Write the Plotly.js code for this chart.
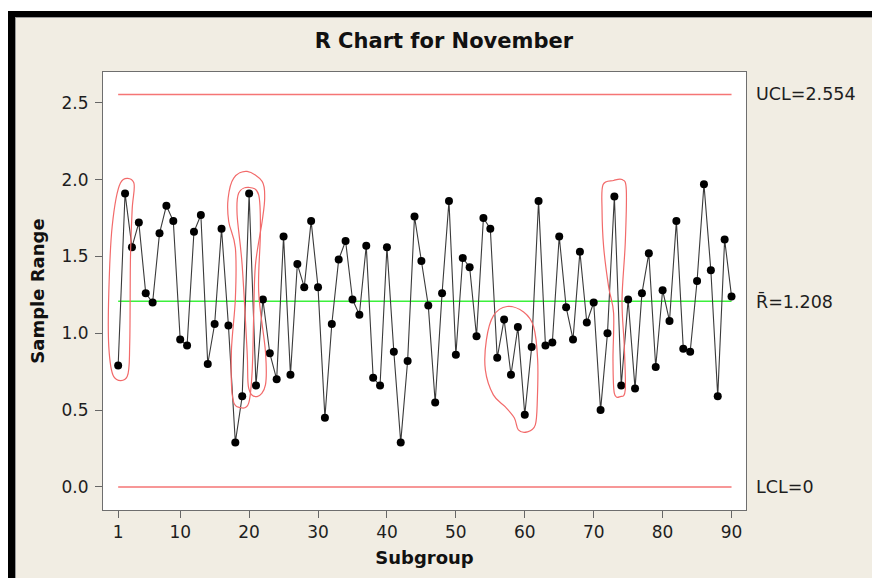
<!DOCTYPE html>
<html>
<head>
<meta charset="utf-8">
<script src="https://cdn.plot.ly/plotly-3.0.1.min.js"></script>
<style>
  html, body { margin: 0; padding: 0; background: #ffffff; }
  #frame { position: absolute; left: 8px; top: 11px; width: 864px; height: 567px;
           box-sizing: border-box; background: #f1ede3;
           border-top: 6px solid #000; border-left: 7px solid #000;
           box-shadow: inset 1px 1px 0 #9a9a9a; }
  #chart { position: absolute; left: 0; top: 0; width: 872px; height: 578px; }
</style>
</head>
<body>
<div id="frame"></div>
<div id="chart"></div>
<script>
// ---- data ----
const sampleRange = [
  0.79, 1.91, 1.56, 1.72, 1.26, 1.20, 1.65, 1.83, 1.73, 0.96,
  0.92, 1.66, 1.77, 0.80, 1.06, 1.68, 1.05, 0.29, 0.59, 1.91,
  0.66, 1.22, 0.87, 0.70, 1.63, 0.73, 1.45, 1.30, 1.73, 1.30,
  0.45, 1.06, 1.48, 1.60, 1.22, 1.12, 1.57, 0.71, 0.66, 1.56,
  0.88, 0.29, 0.82, 1.76, 1.47, 1.18, 0.55, 1.26, 1.86, 0.86,
  1.49, 1.43, 0.98, 1.75, 1.68, 0.84, 1.09, 0.73, 1.04, 0.47,
  0.91, 1.86, 0.92, 0.94, 1.63, 1.17, 0.96, 1.53, 1.07, 1.20,
  0.50, 1.00, 1.89, 0.66, 1.22, 0.64, 1.26, 1.52, 0.78, 1.28,
  1.08, 1.73, 0.90, 0.88, 1.34, 1.97, 1.41, 0.59, 1.61, 1.24
];
const subgroups = sampleRange.map((_, i) => i + 1);
const UCL = 2.554;
const RBAR = 1.208;
const LCL = 0;
const controlLabels = ["UCL=2.554", "R\u0304=1.208", "LCL=0"];
const xTickVals = [1, 10, 20, 30, 40, 50, 60, 70, 80, 90];
const yTickVals = [0, 0.5, 1.0, 1.5, 2.0, 2.5];

// hand-drawn red outlines (data coordinates: subgroup, range)
const outlines = [
  [[3.26,1.981],[1.33,1.977],[0.13,1.695],[-0.36,1.261],[-0.36,0.913],[0.36,0.718],[2.31,0.718],[2.68,0.936],[2.78,1.478],[3.03,1.803]],
  [[19.71,2.053],[21.89,1.988],[22.26,1.880],[21.89,1.727],[20.92,1.445],[20.67,1.120],[20.44,0.751],[19.94,0.545],[18.74,0.516],[17.62,0.577],[17.43,0.881],[18.01,1.228],[18.01,1.554],[17.04,1.727],[16.96,1.880],[17.77,2.010]],
  [[19.94,1.949],[21.39,1.901],[21.64,1.662],[21.39,1.271],[22.37,0.881],[22.37,0.664],[21.16,0.588],[19.94,0.643],[19.71,0.881],[18.99,1.445],[18.26,1.771],[18.49,1.912]],
  [[57.43,1.174],[59.83,1.139],[61.28,1.044],[61.87,0.827],[61.82,0.566],[61.53,0.404],[60.37,0.358],[59.07,0.371],[58.49,0.449],[57.18,0.521],[55.44,0.599],[54.28,0.762],[54.43,0.957],[55.44,1.113]],
  [[71.35,1.966],[72.89,1.994],[74.11,2.0],[74.73,1.934],[74.58,1.587],[74.11,1.217],[74.44,0.913],[74.58,0.632],[73.86,0.588],[72.99,0.610],[72.80,0.827],[72.89,1.131],[72.16,1.304],[71.44,1.564],[71.21,1.803]]
];

function smoothClosedPath(pts) {
  const n = pts.length;
  let d = `M${pts[0][0]},${pts[0][1]}`;
  for (let i = 0; i < n; i++) {
    const p0 = pts[(i - 1 + n) % n], p1 = pts[i], p2 = pts[(i + 1) % n], p3 = pts[(i + 2) % n];
    const c1x = p1[0] + (p2[0] - p0[0]) / 6, c1y = p1[1] + (p2[1] - p0[1]) / 6;
    const c2x = p2[0] - (p3[0] - p1[0]) / 6, c2y = p2[1] - (p3[1] - p1[1]) / 6;
    d += ` C${c1x},${c1y} ${c2x},${c2y} ${p2[0]},${p2[1]}`;
  }
  return d + " Z";
}

const FONT = "DejaVu Sans, Verdana, sans-serif";
const xStart = subgroups[0], xEnd = subgroups[subgroups.length - 1];

const traces = [
  { x: [xStart, xEnd], y: [UCL, UCL], mode: "lines", line: { color: "#f57575", width: 1.5 }, hoverinfo: "skip" },
  { x: [xStart, xEnd], y: [LCL, LCL], mode: "lines", line: { color: "#f57575", width: 1.5 }, hoverinfo: "skip" },
  { x: [xStart, xEnd], y: [RBAR, RBAR], mode: "lines", line: { color: "#3cf03c", width: 1.5 }, hoverinfo: "skip" },
  { x: subgroups, y: sampleRange, mode: "lines+markers",
    line: { color: "#3a3a3a", width: 1.1 },
    marker: { color: "#000000", size: 8 } }
];

const shapes = outlines.map(o => ({
  type: "path", xref: "x", yref: "y", path: smoothClosedPath(o),
  line: { color: "#f26a6a", width: 1.2 }, fillcolor: "rgba(0,0,0,0)", layer: "above"
}));

const layout = {
  width: 872, height: 578,
  margin: { l: 103, r: 126, t: 72, b: 68 },
  paper_bgcolor: "rgba(0,0,0,0)",
  plot_bgcolor: "#ffffff",
  showlegend: false,
  font: { family: FONT, size: 17, color: "#1e1e1e" },
  title: { text: "<b>R Chart for November</b>", font: { family: FONT, size: 21, color: "#111" },
           xref: "container", x: 0.509, xanchor: "center", yref: "container", y: 0.929, yanchor: "middle" },
  xaxis: {
    range: [-1.2, 92.1], tickvals: xTickVals, ticks: "outside", ticklen: 7, tickcolor: "#666",
    showgrid: false, zeroline: false, showline: true, mirror: true, linecolor: "#6e6e6e", linewidth: 1,
    tickfont: { family: FONT, size: 17, color: "#1e1e1e" },
    title: { text: "<b>Subgroup</b>", font: { family: FONT, size: 18, color: "#111" }, standoff: 9 }
  },
  yaxis: {
    range: [-0.15, 2.70], tickvals: yTickVals, tickformat: ".1f", ticks: "outside", ticklen: 7, tickcolor: "#666",
    showgrid: false, zeroline: false, showline: true, mirror: true, linecolor: "#6e6e6e", linewidth: 1,
    tickfont: { family: FONT, size: 17, color: "#1e1e1e" }, ticklabelstandoff: 3,
    title: { text: "<b>Sample Range</b>", font: { family: FONT, size: 18, color: "#111" }, standoff: 12 }
  },
  shapes: shapes,
  annotations: [UCL, RBAR, LCL].map((v, i) => ({
    xref: "paper", x: 1, xanchor: "left", xshift: 8, yref: "y", y: v, yanchor: "middle",
    text: controlLabels[i], showarrow: false, font: { family: FONT, size: 17.5, color: "#1e1e1e" }
  }))
};

Plotly.newPlot("chart", traces, layout, { displayModeBar: false, staticPlot: true });
</script>
</body>
</html>
